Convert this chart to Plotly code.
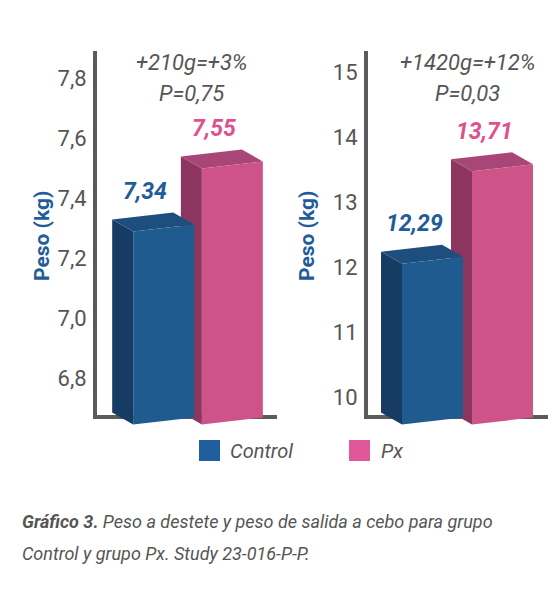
import plotly.graph_objects as go

# ---------------- data ----------------
groups = ["Control", "Px"]
peso_destete = [7.34, 7.55]      # left panel (kg)
peso_salida = [12.29, 13.71]     # right panel (kg)
notes_left = ["+210g=+3%", "P=0,75"]
notes_right = ["+1420g=+12%", "P=0,03"]
y_title = "Peso (kg)"
caption_bold = "Gráfico 3."
caption_1 = " Peso a destete y peso de salida a cebo para grupo"
caption_2 = "Control y grupo Px. Study 23-016-P-P."

# ---------------- style ----------------
W, H = 556, 590
FONT = "Roboto, Liberation Sans, sans-serif"
GRAY = "#555555"
AXIS_GRAY = "#5b5b5b"
FRONT = {"Control": "#1f5b8f", "Px": "#cd5389"}
SIDE = {"Control": "#163c63", "Px": "#8c355e"}
TOP = {"Control": "#1e4e7e", "Px": "#a94678"}
LEG = {"Control": "#1f5f9e", "Px": "#e0579a"}
LABEL = {"Control": "#1f5c99", "Px": "#e0508f"}

# panel geometry (pixels)
YDOM_PX = (40, 432)  # top, bottom
panels = [
    dict(vals=peso_destete, notes=notes_left, xdom_px=(95, 277), xr=(-1.0, 1.65),
         ref_tick=7.8, ref_px=78, ppu_y=300, dtick=0.2, fmt=".1f", note_x=192, title_x=42),
    dict(vals=peso_salida, notes=notes_right, xdom_px=(366, 548), xr=(-0.95, 1.65),
         ref_tick=15, ref_px=72, ppu_y=65, dtick=1, fmt="d", note_x=467, title_x=307),
]
BAR_W_PX = 61
DEPTH_X_PX = 21
DEPTH_Y_PX = 12
SLANT_PX = 7
BASE_PX = 421
AXIS_TOP_PX = 51
AXIS_BOTTOM_PX = 417

fig = go.Figure()
ydom = [1 - YDOM_PX[1] / H, 1 - YDOM_PX[0] / H]

for i, p in enumerate(panels):
    ax = "" if i == 0 else str(i + 1)
    xref, yref = "x" + ax, "y" + ax
    yr = (p["ref_tick"] - (YDOM_PX[1] - p["ref_px"]) / p["ppu_y"],
          p["ref_tick"] + (p["ref_px"] - YDOM_PX[0]) / p["ppu_y"])
    ppu_x = (p["xdom_px"][1] - p["xdom_px"][0]) / (p["xr"][1] - p["xr"][0])
    px2x = lambda d: d / ppu_x
    px2y = lambda d: d / p["ppu_y"]
    base = p["ref_tick"] - (BASE_PX - p["ref_px"]) / p["ppu_y"]
    w = px2x(BAR_W_PX)
    dx, dy, sl = px2x(DEPTH_X_PX), px2y(DEPTH_Y_PX), px2y(SLANT_PX)

    # draw Px first so that Control overlaps it
    for j in [1, 0]:
        g = groups[j]
        v = p["vals"][j]
        x0, x1 = j - w / 2, j + w / 2
        # front face corners (perspective slant: right side higher)
        ftl, ftr = v - dy - sl / 2, v - dy + sl / 2
        fbl, fbr = base - sl / 2, base + sl / 2
        # side face
        fig.add_trace(go.Scatter(
            x=[x0, x0, x0 - dx, x0 - dx, x0], y=[fbl, ftl, ftl + dy, fbl + dy, fbl],
            fill="toself", fillcolor=SIDE[g], line=dict(width=0), mode="lines",
            hoverinfo="skip", showlegend=False, xaxis=xref, yaxis=yref))
        # top face
        fig.add_trace(go.Scatter(
            x=[x0, x1, x1 - dx, x0 - dx, x0], y=[ftl, ftr, ftr + dy, ftl + dy, ftl],
            fill="toself", fillcolor=TOP[g], line=dict(width=0), mode="lines",
            hoverinfo="skip", showlegend=False, xaxis=xref, yaxis=yref))
        # front face
        fig.add_trace(go.Scatter(
            x=[x0, x1, x1, x0, x0], y=[fbl, fbr, ftr, ftl, fbl],
            fill="toself", fillcolor=FRONT[g], line=dict(width=0), mode="lines",
            name=g, showlegend=False, xaxis=xref, yaxis=yref))
        # value label
        fig.add_annotation(
            x=j - dx / 2 - px2x(8), y=v, xref=xref, yref=yref,
            text="<b><i>" + f"{v:.2f}".replace(".", ",") + "</i></b>",
            showarrow=False, yanchor="bottom", yshift=9,
            font=dict(family=FONT, size=23, color=LABEL[g]))

    xd = [p["xdom_px"][0] / W, p["xdom_px"][1] / W]
    fig.update_layout(**{
        "xaxis" + ax: dict(domain=xd, range=list(p["xr"]), visible=False, fixedrange=True),
        "yaxis" + ax: dict(domain=ydom, range=list(yr), anchor=xref,
                           tickmode="linear", tick0=p["ref_tick"], dtick=p["dtick"],
                           tickformat=p["fmt"], showgrid=False, zeroline=False,
                           showline=False, ticks="outside", ticklen=0,
                           ticklabelstandoff=3,
                           tickfont=dict(family=FONT, size=22, color=GRAY)),
    })
    # axis lines (drawn under the bars)
    yf = lambda px: (YDOM_PX[1] - px) / (YDOM_PX[1] - YDOM_PX[0])
    fig.add_shape(type="line", xref=xref + " domain", yref=yref + " domain",
                  x0=0, x1=0, y0=yf(AXIS_BOTTOM_PX) - 0.005, y1=yf(AXIS_TOP_PX),
                  line=dict(color=AXIS_GRAY, width=4), layer="below")
    fig.add_shape(type="line", xref=xref + " domain", yref=yref + " domain",
                  x0=-0.01, x1=1, y0=yf(AXIS_BOTTOM_PX), y1=yf(AXIS_BOTTOM_PX),
                  line=dict(color=AXIS_GRAY, width=4), layer="below")
    # notes at top
    for k, (txt, ypx) in enumerate(zip(p["notes"], [62, 93])):
        fig.add_annotation(x=p["note_x"] / W, y=1 - ypx / H, xref="paper", yref="paper",
                           text="<i>" + txt + "</i>", showarrow=False,
                           xanchor="center", yanchor="middle",
                           font=dict(family=FONT, size=22, color=GRAY))
    # y title
    fig.add_annotation(x=p["title_x"] / W, y=1 - 236 / H, xref="paper", yref="paper",
                       text="<b>" + y_title + "</b>", textangle=-90, showarrow=False,
                       xanchor="center", yanchor="middle",
                       font=dict(family=FONT, size=21, color=LABEL["Control"]))

# legend (custom)
for g, sq_x, tx in [("Control", 199, 228), ("Px", 349, 379)]:
    fig.add_shape(type="rect", xref="paper", yref="paper",
                  x0=sq_x / W, x1=(sq_x + 21) / W, y0=1 - 461 / H, y1=1 - 440 / H,
                  fillcolor=LEG[g], line=dict(width=0))
    fig.add_annotation(x=tx / W, y=1 - 451 / H, xref="paper", yref="paper",
                       text="<i>" + g + "</i>", showarrow=False,
                       xanchor="left", yanchor="middle",
                       font=dict(family=FONT, size=20, color=GRAY))

# caption
fig.add_annotation(x=20 / W, y=1 - 521 / H, xref="paper", yref="paper",
                   text="<i><b>" + caption_bold + "</b>" + caption_1 + "</i>",
                   showarrow=False, xanchor="left", yanchor="middle",
                   font=dict(family=FONT, size=18, color=GRAY))
fig.add_annotation(x=20 / W, y=1 - 553 / H, xref="paper", yref="paper",
                   text="<i>" + caption_2 + "</i>",
                   showarrow=False, xanchor="left", yanchor="middle",
                   font=dict(family=FONT, size=18, color=GRAY))

fig.update_layout(width=W, height=H, margin=dict(l=0, r=0, t=0, b=0),
                  paper_bgcolor="white", plot_bgcolor="rgba(0,0,0,0)",
                  showlegend=False, separators=", ")
fig.write_html("out.html", config={"displayModeBar": False})
